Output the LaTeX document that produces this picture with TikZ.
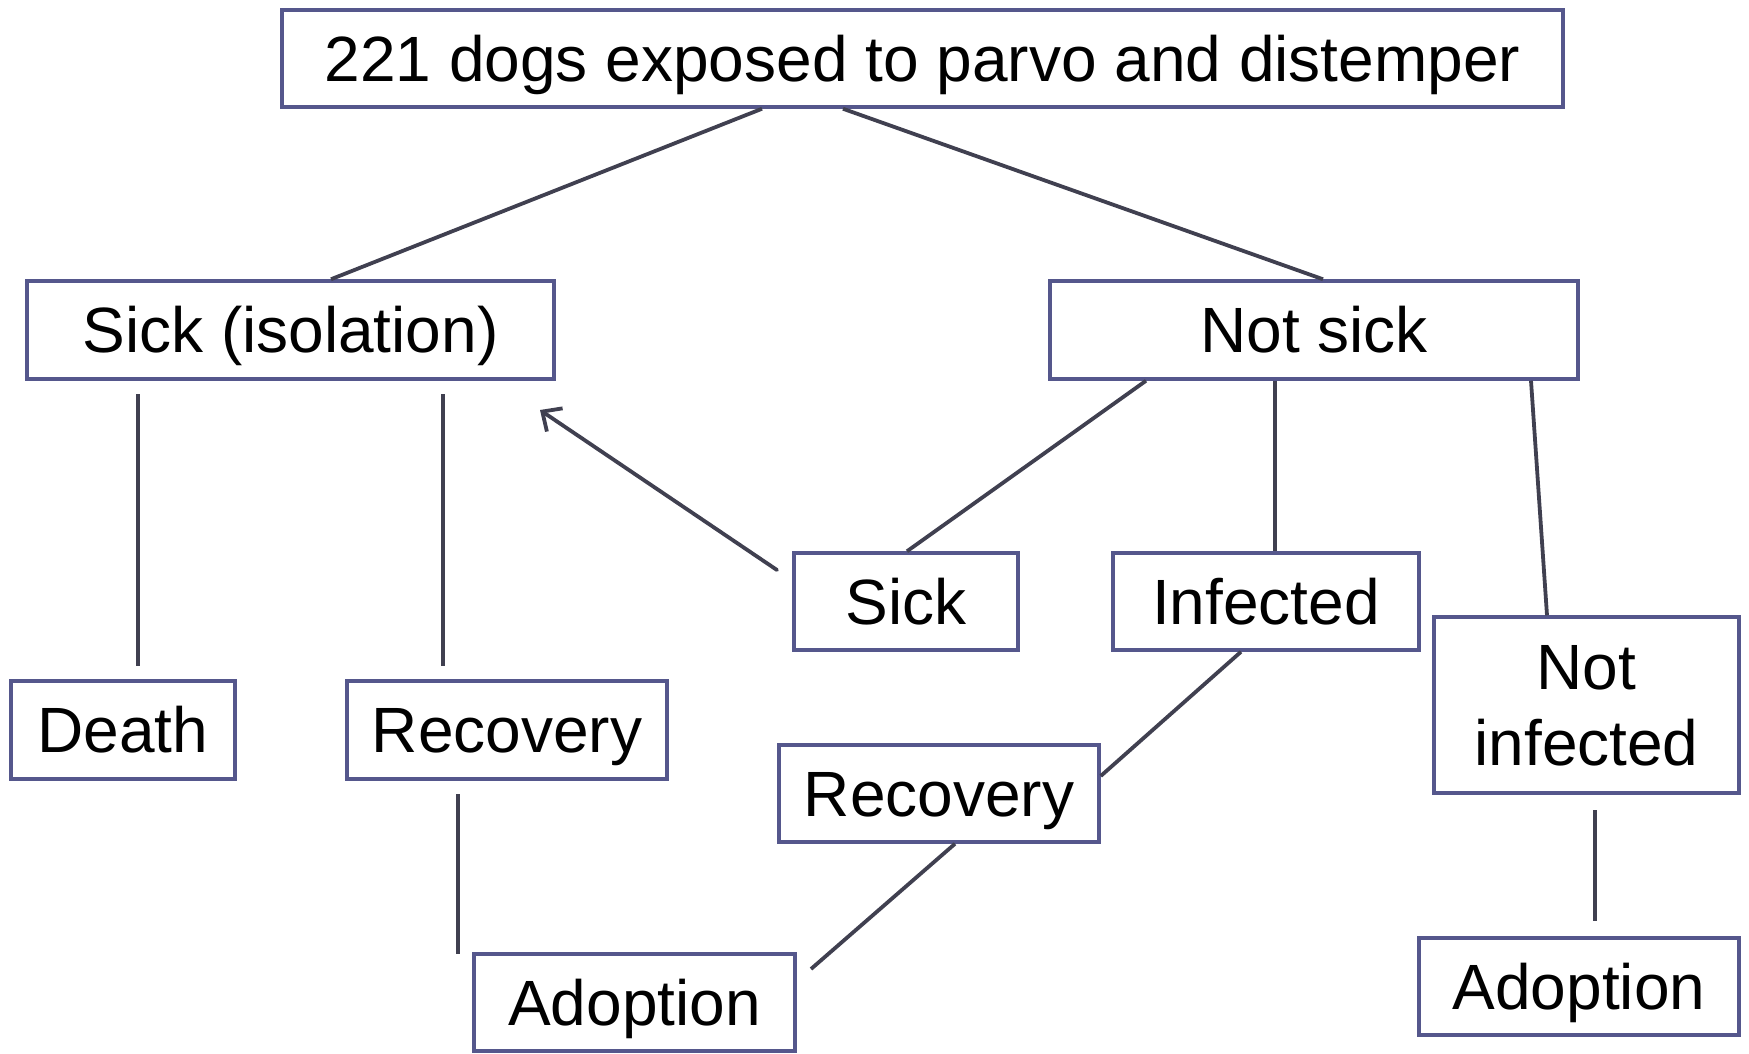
\documentclass[tikz,border=0pt]{standalone}
\usepackage{fontspec}
\setmainfont{Liberation Sans}
\usepackage{xcolor}
\usetikzlibrary{arrows.meta}

\definecolor{boxcol}{RGB}{85,87,140}
\definecolor{linecol}{RGB}{64,64,80}

\tikzset{
  box/.style={draw=boxcol, line width=3.5pt, inner sep=0pt, align=center,
    text height=45.8pt, text depth=0pt,
    font=\fontsize{64}{76}\selectfont},
  link/.style={draw=linecol, line width=3.8pt}
}

\begin{document}
\begin{tikzpicture}[x=1pt,y=-1pt]
        \useasboundingbox (0,0) rectangle (1749,1053);

        % Top
        \node[box, minimum width=1281pt, minimum height=97pt] (top) at (922.5,58.5) {221 dogs exposed to parvo and distemper};

        % Second row
        \node[box, minimum width=527pt, minimum height=98pt] (sickiso) at (290.5,330) {Sick (isolation)};
        \node[box, minimum width=528pt, minimum height=98pt] (notsick) at (1314,330) {Not sick};

        % Not sick branch
        \node[box, minimum width=224pt, minimum height=97pt] (sick) at (906,601.5) {Sick};
        \node[box, minimum width=306pt, minimum height=97pt] (infected) at (1266,601.5) {Infected};
        \node[box, minimum width=305pt, minimum height=176pt, text height=121.8pt] (notinf) at (1586.5,705) {Not\\infected};
        \node[box, minimum width=320pt, minimum height=97pt] (recm) at (939,793.5) {Recovery};
        \node[box, minimum width=320pt, minimum height=97pt] (adoptr) at (1579,986.5) {Adoption};

        % Sick branch
        \node[box, minimum width=224pt, minimum height=98pt] (death) at (123,730) {Death};
        \node[box, minimum width=320pt, minimum height=98pt] (recl) at (507,730) {Recovery};
        \node[box, minimum width=321pt, minimum height=97pt] (adoptl) at (634.5,1002.5) {Adoption};

        % Loose line ends
        \coordinate (deathtop) at (138,394);
        \coordinate (deathbot) at (138,666);
        \coordinate (rectop) at (443,394);
        \coordinate (recbot) at (443,666);
        \coordinate (adtop) at (458,794);
        \coordinate (adbot) at (458,954);
        \coordinate (backfrom) at (777,570);
        \coordinate (backto) at (540,410);
        \coordinate (adend) at (811,969);
        \coordinate (nitop) at (1595,810);
        \coordinate (nibot) at (1595,921);

        % Connectors
        \draw[link] (top.south -| 762,0) -- (sickiso.north -| 331,0);
        \draw[link] (top.south -| 843,0) -- (notsick.north -| 1323,0);
        \draw[link] (deathtop) -- (deathbot);
        \draw[link] (rectop) -- (recbot);
        \draw[link] (adtop) -- (adbot);
        \draw[link, line cap=round, -{Straight Barb[length=15pt,width=28pt]}] (backfrom) -- (backto);
        \draw[link] (notsick.south -| 1146,0) -- (sick.north -| 907,0);
        \draw[link] (notsick.south -| 1275,0) -- (infected.north -| 1275,0);
        \draw[link] (notsick.south -| 1531,0) -- (notinf.north -| 1547,0);
        \draw[link] (infected.south -| 1241,0) -- (recm.east |- 0,776);
        \draw[link] (recm.south -| 955,0) -- (adend);
        \draw[link] (nitop) -- (nibot);

      \end{tikzpicture}
\end{document}
